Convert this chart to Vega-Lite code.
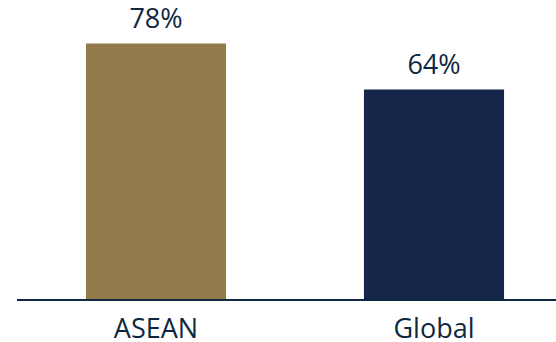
{
  "$schema": "https://vega.github.io/schema/vega-lite/v6.json",
  "width": 539,
  "height": 300,
  "autosize": "none",
  "padding": {"left": 17, "top": 0, "right": 0, "bottom": 42},
  "background": "white",
  "config": {"view": {"stroke": null}, "font": "Open Sans"},
  "data": {"values": [
    {"region": "ASEAN", "value": 78, "label": "78%"},
    {"region": "Global", "value": 64, "label": "64%"}
  ]},
  "layer": [
    {
      "mark": {"type": "bar"},
      "encoding": {
        "x": {"field": "region", "type": "nominal", "sort": null,
              "scale": {"range": [0, 556], "paddingInner": 0.496, "paddingOuter": 0.248},
              "axis": {"title": null, "domain": false, "ticks": false, "labelAngle": 0,
                       "labelFont": "Open Sans", "labelFontSize": 27, "labelColor": "#0E2841",
                       "labelPadding": 16}},
        "y": {"field": "value", "type": "quantitative",
              "scale": {"domain": [0, 91.2], "nice": false}, "axis": null},
        "color": {"field": "region", "type": "nominal",
                  "scale": {"domain": ["ASEAN", "Global"], "range": ["#927A4B", "#16264B"]},
                  "legend": null}
      }
    },
    {
      "mark": {"type": "text", "baseline": "alphabetic", "dy": -15, "font": "Open Sans", "fontSize": 27, "color": "#0E2841"},
      "encoding": {
        "x": {"field": "region", "type": "nominal", "sort": null},
        "y": {"field": "value", "type": "quantitative"},
        "text": {"field": "label"}
      }
    },
    {
      "mark": {"type": "rule", "color": "#0E2841", "strokeWidth": 2},
      "encoding": {"y": {"datum": 0}}
    }
  ]
}
